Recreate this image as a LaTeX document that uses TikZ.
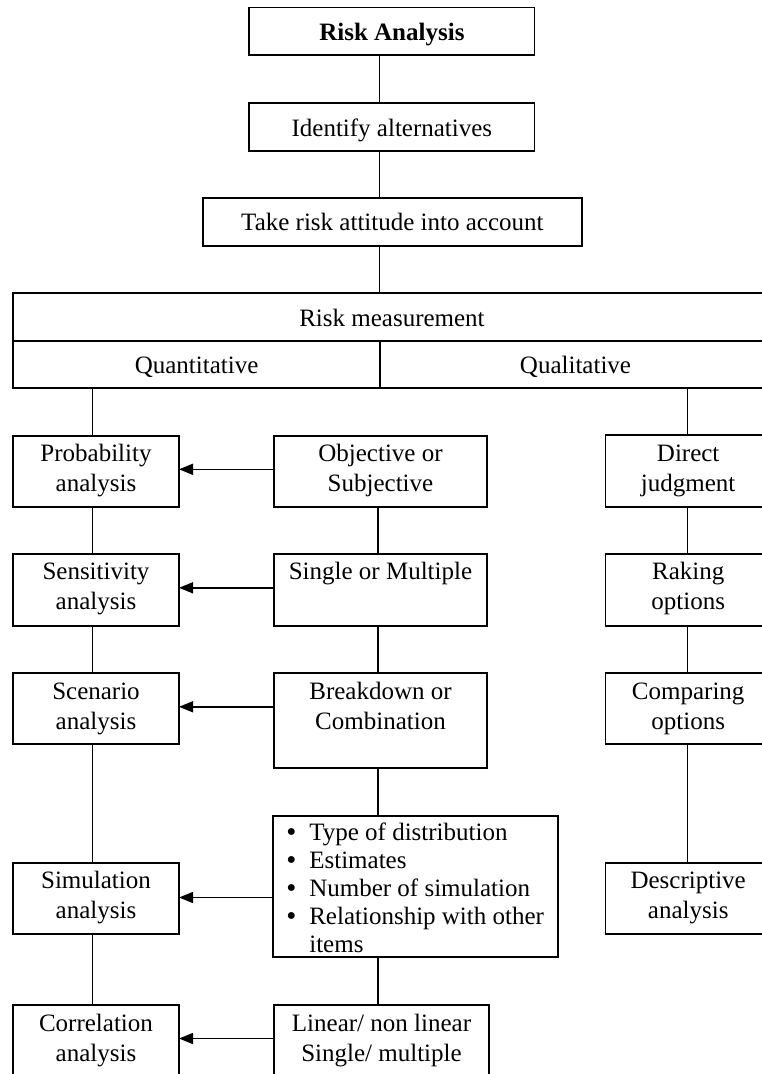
\documentclass[tikz,border=0pt]{standalone}
\usepackage{fontspec}
\setmainfont{Liberation Serif}
\usetikzlibrary{arrows.meta}
\newcommand\bt[4]{\parbox[c][#2pt][t]{#1pt}{\centering\vspace*{#3pt}\strut #4}}
\newcommand\bul{\hspace*{13pt}\makebox[23pt][l]{\raisebox{-1.2pt}[0pt][0pt]{\scalebox{1.15}{\textbullet}}}}
\tikzset{
  box/.style={draw, line width=1.7pt, rectangle, inner sep=0pt, outer sep=0pt,
    font=\fontsize{25}{30}\selectfont},
  link/.style={line width=1.5pt},
  arr/.style={line width=1.5pt, -{Triangle[length=14pt,width=11pt]}}
}
\begin{document}
\begin{tikzpicture}[x=1pt,y=-1pt]
\useasboundingbox (0,0) rectangle (762,1074);
\clip (0,0) rectangle (762,1074);
\fill[white] (0,0) rectangle (762,1074);
% top chain
\node[box] (ra) at (391.9,31.2) {\bt{285.2}{47.7}{12.5}{\textbf{Risk Analysis}}};
\node[box] (ia) at (391.9,126.7) {\bt{285.2}{48}{12.5}{Identify alternatives}};
\node[box] (tr) at (392.4,221.7) {\bt{379.5}{48}{12}{Take risk attitude into account}};
\node[box] (rm) at (392,317) {\bt{757.9}{47.4}{12.4}{Risk measurement}};
\node[box] (qn) at (196.55,364.2) {\bt{366.9}{47}{11.8}{Quantitative}};
\node[box] (ql) at (575.5,364.2) {\bt{391}{47}{11.8}{Qualitative}};
% left column
\node[box] (prob) at (96,471.3) {\bt{166}{71.3}{5}{Probability\\analysis}};
\node[box] (sens) at (96,589.8) {\bt{166}{71.7}{5}{Sensitivity\\analysis}};
\node[box] (scen) at (96,708.8) {\bt{166}{71}{5.5}{Scenario\\analysis}};
\node[box] (sim) at (96,898.5) {\bt{166}{71.6}{5}{Simulation\\analysis}};
\node[box] (corr) at (96,1040.5) {\bt{166}{71}{5.5}{Correlation\\analysis}};
% middle column
\node[box] (obj) at (380.5,471.3) {\bt{213}{71.3}{5}{Objective or\\Subjective}};
\node[box] (sing) at (380.5,589.8) {\bt{213}{71.7}{5}{Single or Multiple}};
\node[box] (brk) at (380.5,720.8) {\bt{213}{95}{5.5}{Breakdown or\\Combination}};
\node[box] (bl) at (415.8,886.5) {\parbox[c][141.6pt][t]{285pt}{\fontsize{25}{28}\selectfont\raggedright\vspace*{5.4pt}%
\strut\bul Type of distribution\\
\bul Estimates\\
\bul Number of simulation\\
\bul Relationship with other\\
\hspace*{36pt}items}};
\node[box] (lin) at (381.5,1040.5) {\bt{215}{71}{5.5}{Linear/ non linear\\Single/ multiple}};
% right column
\node[box] (dir) at (688.2,471.3) {\bt{165.7}{72}{5}{Direct\\judgment}};
\node[box] (rak) at (688.2,589.8) {\bt{165.7}{71.7}{5}{Raking\\options}};
\node[box] (cmp) at (688.2,708.8) {\bt{165.7}{71}{5.5}{Comparing\\options}};
\node[box] (desc) at (688.2,898.5) {\bt{165.7}{71.6}{5}{Descriptive\\analysis}};
% spines
\coordinate (sp) at (379.7,0);
\coordinate (spl) at (92.3,0);
\coordinate (spm) at (378,0);
\coordinate (spr) at (687.7,0);
\draw[link] (ra.south -| sp) -- (ia.north -| sp);
\draw[link] (ia.south -| sp) -- (tr.north -| sp);
\draw[link] (tr.south -| sp) -- (rm.north -| sp);
\draw[link] (qn.south -| spl) -- (prob.north -| spl);
\draw[link] (prob.south -| spl) -- (sens.north -| spl);
\draw[link] (sens.south -| spl) -- (scen.north -| spl);
\draw[link] (scen.south -| spl) -- (sim.north -| spl);
\draw[link] (sim.south -| spl) -- (corr.north -| spl);
\draw[link] (obj.south -| spm) -- (sing.north -| spm);
\draw[link] (sing.south -| spm) -- (brk.north -| spm);
\draw[link] (brk.south -| spm) -- (bl.north -| spm);
\draw[link] (bl.south -| spm) -- (lin.north -| spm);
\draw[link] (ql.south -| spr) -- (dir.north -| spr);
\draw[link] (dir.south -| spr) -- (rak.north -| spr);
\draw[link] (rak.south -| spr) -- (cmp.north -| spr);
\draw[link] (cmp.south -| spr) -- (desc.north -| spr);
% arrows
\coordinate (a1) at ([yshift=2pt]prob.east);
\coordinate (a2) at ([yshift=2pt]sens.east);
\coordinate (a3) at ([yshift=2pt]scen.east);
\coordinate (a4) at ([yshift=1pt]sim.east);
\coordinate (a5) at ([yshift=2pt]corr.east);
\draw[arr] (obj.west |- a1) -- (a1);
\draw[arr] (sing.west |- a2) -- (a2);
\draw[arr] (brk.west |- a3) -- (a3);
\draw[arr] (bl.west |- a4) -- (a4);
\draw[arr] (lin.west |- a5) -- (a5);
\end{tikzpicture}
\end{document}
